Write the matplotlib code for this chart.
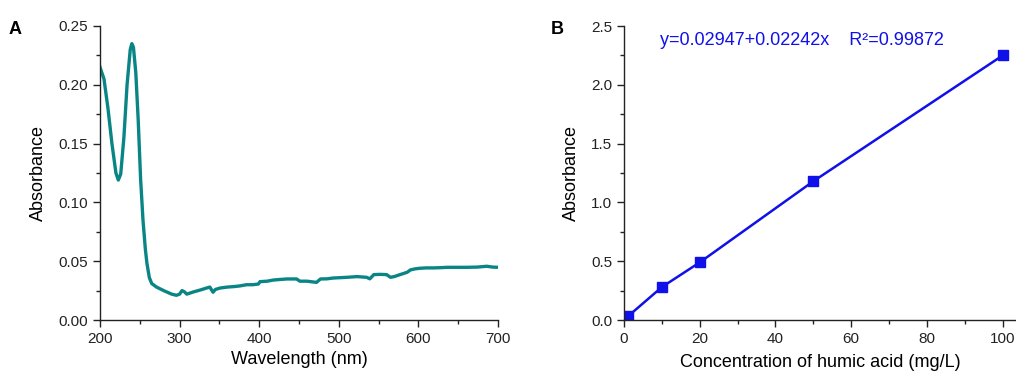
import matplotlib
matplotlib.use("Agg")
import matplotlib.pyplot as plt
from matplotlib.ticker import MultipleLocator

plt.rcParams['font.family'] = ['Liberation Sans', 'DejaVu Sans']

# Panel A: UV-vis spectrum
wavelength = [200, 205, 210, 215, 220, 223, 226, 230, 234, 238, 240, 242, 245, 248, 251, 254,
              257, 259, 262, 265, 271, 280, 290, 296, 300, 303, 306, 309, 318, 326, 333, 338,
              342, 345, 351, 360, 368, 376, 384, 392, 399, 401, 410, 418, 427, 435, 447, 451,
              460, 472, 477, 485, 493, 502, 510, 523, 535, 539, 544, 552, 560, 565, 570, 577,
              586, 590, 596, 602, 610, 619, 628, 636, 648, 661, 674, 686, 693, 700]
absorbance = [0.215, 0.205, 0.180, 0.150, 0.125, 0.119, 0.124, 0.155, 0.200, 0.230, 0.235, 0.232,
              0.210, 0.170, 0.120, 0.085, 0.060, 0.048, 0.036, 0.031, 0.028, 0.025, 0.022, 0.021,
              0.022, 0.025, 0.024, 0.022, 0.024, 0.0255, 0.027, 0.028, 0.0236, 0.026, 0.0272,
              0.028, 0.0284, 0.029, 0.030, 0.030, 0.0306, 0.0326, 0.033, 0.034, 0.0345, 0.0349,
              0.0349, 0.033, 0.033, 0.032, 0.0349, 0.035, 0.0357, 0.036, 0.0363, 0.0369, 0.0363,
              0.035, 0.0386, 0.0388, 0.0386, 0.0363, 0.037, 0.0386, 0.0406, 0.0426, 0.0435, 0.044,
              0.0443, 0.0443, 0.0445, 0.0448, 0.0448, 0.0448, 0.0450, 0.0457, 0.0450, 0.0448]

# Panel B: calibration curve
concentration = [1, 10, 20, 50, 100]
cal_absorbance = [0.03, 0.28, 0.49, 1.18, 2.25]
equation_text = "y=0.02947+0.02242x    R\u00b2=0.99872"

fig = plt.figure(figsize=(10.16, 3.76), dpi=100)
W, H = 1016, 376
axA = fig.add_axes([100 / W, 1 - 320 / H, (498 - 100) / W, (320 - 26) / H])
axB = fig.add_axes([624 / W, 1 - 320 / H, (1016 - 624) / W, (320 - 26) / H])

teal = '#0a8585'
blue = '#1010e8'

axA.plot(wavelength, absorbance, color=teal, lw=2.4, solid_joinstyle='round')
axA.set_xlim(200, 700)
axA.set_ylim(0, 0.25)
axA.xaxis.set_major_locator(MultipleLocator(100))
axA.xaxis.set_minor_locator(MultipleLocator(50))
axA.yaxis.set_major_locator(MultipleLocator(0.05))
axA.yaxis.set_minor_locator(MultipleLocator(0.025))
axA.yaxis.set_major_formatter(matplotlib.ticker.FormatStrFormatter('%.2f'))
axA.set_xlabel('Wavelength (nm)', fontsize=13, labelpad=4)
axA.set_ylabel('Absorbance', fontsize=13, labelpad=8)

axB.plot(concentration, cal_absorbance, color=blue, lw=1.8, marker='s', ms=6.5,
         mfc=blue, mec=blue)
axB.set_xlim(0, 103.5)
axB.set_ylim(0, 2.5)
axB.xaxis.set_major_locator(MultipleLocator(20))
axB.xaxis.set_minor_locator(MultipleLocator(10))
axB.yaxis.set_major_locator(MultipleLocator(0.5))
axB.yaxis.set_minor_locator(MultipleLocator(0.25))
axB.yaxis.set_major_formatter(matplotlib.ticker.FormatStrFormatter('%.1f'))
axB.set_xlabel('Concentration of humic acid (mg/L)', fontsize=13, labelpad=6)
axB.set_ylabel('Absorbance', fontsize=13, labelpad=8)
axB.text(0.092, 0.952, equation_text, transform=axB.transAxes, color=blue,
         fontsize=13, ha='left', va='center')

for ax in (axA, axB):
    ax.spines['top'].set_visible(False)
    ax.spines['right'].set_visible(False)
    for s in ('left', 'bottom'):
        ax.spines[s].set_linewidth(1.0)
        ax.spines[s].set_color('#222222')
    ax.tick_params(which='major', direction='out', length=5, width=1, labelsize=11,
                   colors='#222222')
    ax.tick_params(which='minor', direction='out', length=3, width=1, colors='#222222')
    ax.set_facecolor('white')

fig.text(15 / W, 1 - 30 / H, 'A', fontsize=13, fontweight='bold', ha='center', va='center')
fig.text(557 / W, 1 - 30 / H, 'B', fontsize=13, fontweight='bold', ha='center', va='center')

fig.savefig('out.png', dpi=100, facecolor='white')
